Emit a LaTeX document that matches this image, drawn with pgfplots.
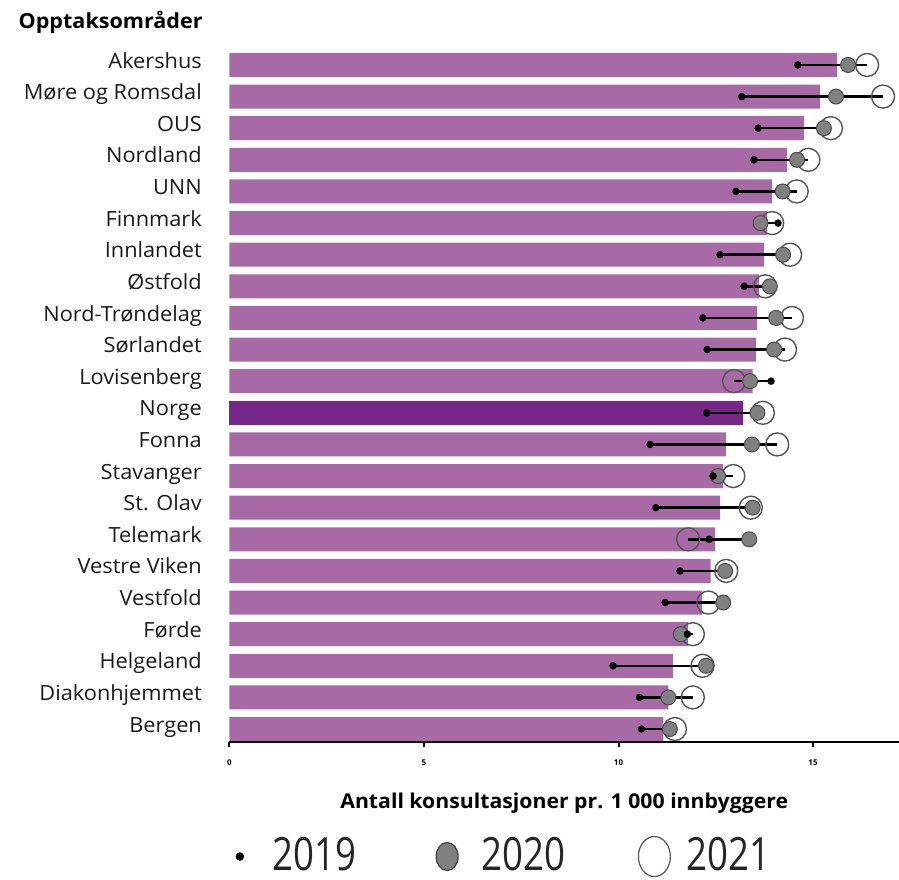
\documentclass[border=0pt]{standalone}
\usepackage{pgfplots}
\pgfplotsset{compat=1.18}
\usepackage{pgfplotstable}
\usepackage{fontspec}
\setmainfont{Open Sans}
\newfontfamily\labfont[FakeStretch=1.04]{Open Sans}
\newfontfamily\legfont[FakeStretch=0.8]{Open Sans}
\definecolor{barc}{RGB}{168,106,166}
\definecolor{norc}{RGB}{117,40,135}
\definecolor{dotg}{RGB}{128,128,128}
\definecolor{ringg}{RGB}{85,85,85}

% y: 21 = Akershus (top) ... 0 = Bergen (bottom)
\pgfplotstableread{
y  bar   a     b     c     lo    hi
21 15.62 14.61 15.90 16.39 14.61 16.39
20 15.18 13.17 15.59 16.80 13.17 16.80
19 14.77 13.59 15.28 15.46 13.59 15.46
18 14.33 13.48 14.59 14.88 13.48 14.88
17 13.95 13.02 14.22 14.58 13.02 14.58
16 13.82 14.10 13.65 13.95 13.65 14.10
15 13.74 12.61 14.23 14.41 12.61 14.41
14 13.61 13.23 13.89 13.77 13.23 13.89
13 13.56 12.17 14.05 14.46 12.17 14.46
12 13.53 12.28 14.00 14.28 12.28 14.28
11 13.45 13.92 13.38 12.97 12.97 13.92
10 13.20 12.27 13.57 13.71 12.27 13.71
9  12.76 10.81 13.43 14.08 10.81 14.08
8  12.69 12.43 12.56 12.95 12.43 12.95
7  12.61 10.96 13.45 13.40 10.96 13.45
6  12.48 12.33 13.36 11.79 11.79 13.36
5  12.37 11.58 12.74 12.77 11.58 12.77
4  12.15 11.20 12.69 12.31 11.20 12.69
3  11.79 11.77 11.60 11.91 11.60 11.91
2  11.40  9.86 12.25 12.16  9.86 12.25
1  11.28 10.54 11.28 11.91 10.54 11.91
0  11.15 10.59 11.32 11.45 10.59 11.45
}\data

\begin{document}
\begin{tikzpicture}
\path[use as bounding box] (-229.5bp,-138bp) rectangle (669.5bp,742bp);
\begin{axis}[
  scale only axis, width=669.5bp, height=690bp,
  xmin=0, xmax=17.21, ymin=-0.41, ymax=21.41,
  clip=false,
  axis x line*=bottom, axis y line*=left,
  y axis line style={draw=none},
  x axis line style={line width=2.5bp},
  xtick={0,5,10,15}, tick align=outside,
  x tick style={line width=2bp, black},
  major tick length=5bp,
  ytick={0,...,21},
  y tick style={draw=none},
  yticklabels={Bergen,Diakonhjemmet,Helgeland,Førde,Vestfold,Vestre Viken,Telemark,St. Olav,Stavanger,Fonna,Norge,Lovisenberg,Sørlandet,Nord-Trøndelag,Østfold,Innlandet,Finnmark,UNN,Nordland,OUS,Møre og Romsdal,Akershus},
  yticklabel style={font=\labfont\fontsize{21}{25}\selectfont, inner sep=0pt, text height=1.45ex, text depth=0.3ex, xshift=-22.5bp, text=black!90},
  xticklabel style={font=\fontsize{8}{9}\selectfont\bfseries, inner sep=0pt, yshift=-13bp},
  /pgf/number format/assume math mode=true,
  xlabel={Antall konsultasjoner pr. 1 000 innbyggere},
  xlabel style={at={(axis description cs:0.5,0)}, anchor=center, yshift=-61bp, font=\labfont\fontsize{20.5}{24}\selectfont\bfseries},
  legend style={at={(0,-0.166)}, anchor=west, draw=none, fill=none, inner sep=0pt,
    legend columns=3, font=\legfont\fontsize{46}{50}\selectfont, text=black!85,
    nodes={inner sep=0pt},
    /tikz/every odd column/.append style={column sep=0bp},
    /tikz/every even column/.append style={column sep=41bp}},
]
\addplot[xbar, bar width=0.76, bar shift=0pt, fill=barc, draw=none, forget plot] table[x=bar, y=y] {\data};
\addplot[xbar, bar width=0.76, bar shift=0pt, fill=norc, draw=none, forget plot] coordinates {(13.20,10)};
\addplot[only marks, mark=o, mark size=11.5bp, mark options={draw=ringg, line width=1.4bp}, forget plot] table[x=c, y=y] {\data};
\addplot[only marks, mark=*, mark size=7.5bp, mark options={draw=black!70, fill=dotg, line width=1bp}, forget plot] table[x=b, y=y] {\data};
\addplot[draw=none, mark=none, forget plot,
  error bars/.cd, x dir=plus, x explicit, error mark=none,
  error bar style={draw=black, line width=2.5bp}]
  table[x=lo, y=y, x error expr=\thisrow{hi}-\thisrow{lo}] {\data};
\addplot[only marks, mark=*, mark size=3.5bp, mark options={draw=black, fill=black}, forget plot] table[x=a, y=y] {\data};
\addlegendimage{legend image code/.code={\path (-10bp,0bp) (32bp,0bp); \fill[black] (0bp,-2bp) circle (4bp);}}
\addlegendimage{legend image code/.code={\path (-50bp,0bp) (34bp,0bp); \filldraw[fill=dotg, draw=black!75, line width=1.2bp] (0bp,-2bp) ellipse (11bp and 14bp);}}
\addlegendimage{legend image code/.code={\path (-48bp,0bp) (32bp,0bp); \draw[draw=ringg, line width=1.2bp] (0bp,-2bp) ellipse (16bp and 20bp);}}
\legend{2019,2020,2021}
\node[anchor=west, inner sep=0pt, font=\labfont\fontsize{20.8}{24}\selectfont\bfseries] at (rel axis cs:0,1) [xshift=-211bp, yshift=30bp] {Opptaksområder};
\end{axis}
\end{tikzpicture}
\end{document}
